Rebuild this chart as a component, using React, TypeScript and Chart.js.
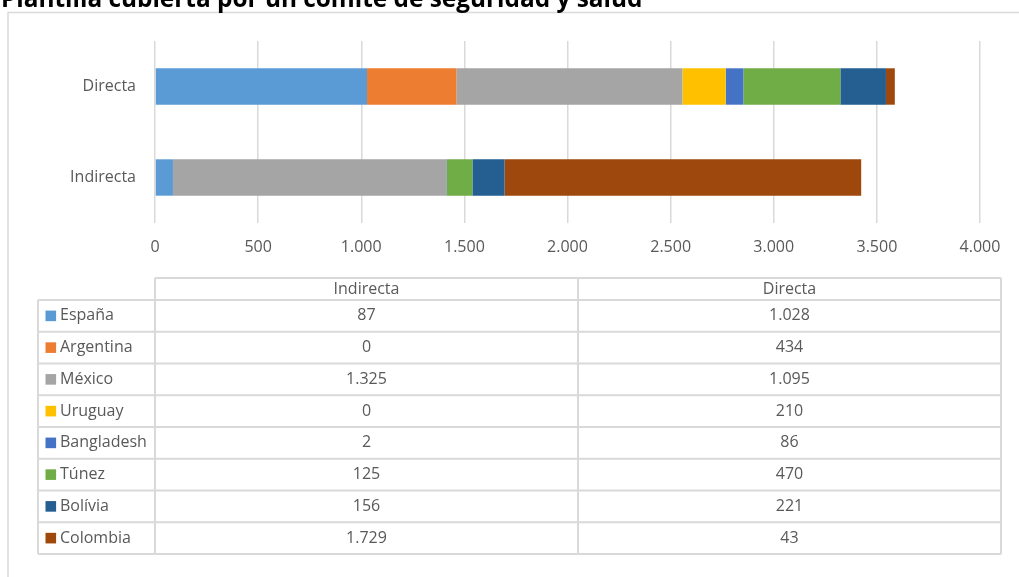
import { useEffect, useRef } from 'react';
import { Chart, registerables } from 'chart.js';

Chart.register(...registerables);

const TITLE = 'Plantilla cubierta por un comité de seguridad y salud';
const CATEGORIES = ['Indirecta', 'Directa'];
const SERIES_NAMES = ['España', 'Argentina', 'México', 'Uruguay', 'Bangladesh', 'Túnez', 'Bolívia', 'Colombia'];
const ESPANA = [87, 1028];
const ARGENTINA = [0, 434];
const MEXICO = [1325, 1095];
const URUGUAY = [0, 210];
const BANGLADESH = [2, 86];
const TUNEZ = [125, 470];
const BOLIVIA = [156, 221];
const COLOMBIA = [1729, 43];
const SERIES_VALUES = [ESPANA, ARGENTINA, MEXICO, URUGUAY, BANGLADESH, TUNEZ, BOLIVIA, COLOMBIA];
const X_MIN = 0;
const X_MAX = 4000;
const X_STEP = 500;

const COLORS = ['#5B9BD5', '#ED7D31', '#A5A5A5', '#FFC000', '#4472C4', '#70AD47', '#255E91', '#9E480E'];
const TEXT = '#595959';
const LINE = '#D9D9D9';
const FONT_FAMILY = '"Open Sans", "Noto Sans", sans-serif';
const TITLE_FAMILY = '"Open Sans", "Noto Sans", sans-serif';

const fmt = (v: number) => String(Math.round(v)).replace(/\B(?=(\d{3})+(?!\d))/g, '.');

const decorPlugin = {
  id: 'decor',
  beforeDraw(chart: any) {
    const ctx = chart.ctx as CanvasRenderingContext2D;
    ctx.save();
    ctx.fillStyle = '#ffffff';
    ctx.fillRect(0, 0, chart.width, chart.height);
    // outer box
    ctx.strokeStyle = LINE;
    ctx.lineWidth = 1.5;
    ctx.strokeRect(8, 12.5, 1200, 800);
    // title, sized to span the same width as the reference title
    ctx.fillStyle = '#000000';
    ctx.font = `bold 20px ${TITLE_FAMILY}`;
    const w = ctx.measureText(TITLE).width;
    const size = (20 * 642) / w;
    ctx.font = `bold ${size}px ${TITLE_FAMILY}`;
    ctx.textBaseline = 'alphabetic';
    ctx.textAlign = 'left';
    ctx.fillText(TITLE, 1, 7);
    ctx.restore();
  },
  afterDraw(chart: any) {
    const ctx = chart.ctx as CanvasRenderingContext2D;
    const area = chart.chartArea;
    const xLabel = 38;
    const xSplit = area.left;
    const xRight = 1001;
    const colW = (xRight - xSplit) / CATEGORIES.length;
    const headerTop = 278;
    const rowsTop = 300;
    const rowH = 31.75;
    const n = SERIES_NAMES.length;
    const bottom = rowsTop + rowH * n;
    ctx.save();
    ctx.strokeStyle = LINE;
    ctx.lineWidth = 2;
    ctx.beginPath();
    ctx.moveTo(xSplit, headerTop);
    ctx.lineTo(xRight, headerTop);
    for (let i = 0; i <= n; i++) {
      const y = rowsTop + rowH * i;
      ctx.moveTo(xLabel, y);
      ctx.lineTo(xRight, y);
    }
    ctx.moveTo(xLabel, rowsTop);
    ctx.lineTo(xLabel, bottom);
    for (let c = 0; c <= CATEGORIES.length; c++) {
      const x = xSplit + colW * c;
      ctx.moveTo(x, headerTop);
      ctx.lineTo(x, bottom);
    }
    ctx.stroke();

    ctx.font = `16px ${FONT_FAMILY}`;
    ctx.fillStyle = TEXT;
    ctx.textBaseline = 'middle';
    ctx.textAlign = 'center';
    CATEGORIES.forEach((cat, c) => {
      ctx.fillText(cat, xSplit + colW * (c + 0.5), (headerTop + rowsTop) / 2);
    });
    SERIES_NAMES.forEach((name, i) => {
      const cy = rowsTop + rowH * (i + 0.5);
      ctx.fillStyle = COLORS[i];
      ctx.fillRect(45.5, cy - 5.3, 10.6, 10.6);
      ctx.fillStyle = TEXT;
      ctx.textAlign = 'left';
      ctx.fillText(name, 60, cy);
      ctx.textAlign = 'center';
      SERIES_VALUES[i].forEach((v, c) => {
        ctx.fillText(fmt(v), xSplit + colW * (c + 0.5), cy);
      });
    });
    ctx.restore();
  },
};

export default function App() {
  const ref = useRef<HTMLCanvasElement>(null);
  useEffect(() => {
    document.body.style.margin = '0';
    const font = { family: FONT_FAMILY, size: 16 };
    const chart = new Chart(ref.current as HTMLCanvasElement, {
      type: 'bar',
      data: {
        labels: CATEGORIES,
        datasets: SERIES_NAMES.map((name, i) => ({
          label: name,
          data: SERIES_VALUES[i],
          backgroundColor: COLORS[i],
          borderWidth: 0,
          barPercentage: 1,
          categoryPercentage: 0.4,
        })),
      },
      options: {
        indexAxis: 'y',
        responsive: false,
        animation: false,
        devicePixelRatio: 1,
        layout: { padding: { left: 0, top: 41, right: 39, bottom: 314 } },
        plugins: { legend: { display: false }, tooltip: { enabled: false } },
        scales: {
          x: {
            stacked: true,
            min: X_MIN,
            max: X_MAX,
            ticks: { stepSize: X_STEP, callback: (v: any) => fmt(Number(v)), color: TEXT, font, padding: 15, maxRotation: 0 },
            grid: { color: LINE, lineWidth: 1.5, drawTicks: false },
            border: { display: false },
            afterFit: (s: any) => { s.height = 40; },
          },
          y: {
            stacked: true,
            reverse: true,
            ticks: { color: TEXT, font, padding: 11 },
            grid: { display: false },
            border: { display: false },
            afterFit: (s: any) => { s.width = 155; },
          },
        },
      } as any,
      plugins: [decorPlugin],
    });
    return () => chart.destroy();
  }, []);
  return (
    <div style={{ position: 'absolute', left: 0, top: 0, width: 1019, height: 577, background: '#fff' }}>
      <canvas ref={ref} width={1019} height={577} style={{ display: 'block' }} />
    </div>
  );
}
